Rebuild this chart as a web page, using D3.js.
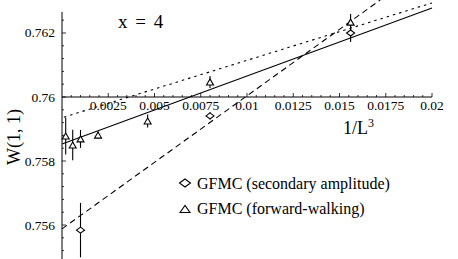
<!DOCTYPE html>
<html><head><meta charset="utf-8">
<script src="https://cdn.jsdelivr.net/npm/d3@7"></script>
<style>
html,body{margin:0;padding:0;background:#fff;}
svg{display:block;font-family:"Liberation Serif","Times New Roman",serif;}
</style></head>
<body><svg id="c" width="458" height="259"></svg>
<script>
// forward-walking (triangles)
const fwX = [0.0002, 0.000579, 0.001, 0.00195, 0.00463, 0.008, 0.0156];
const fwY = [0.75878, 0.7585, 0.75869, 0.75881, 0.75925, 0.76047, 0.76234];
const fwErr = [0.00058, 0.00048, 0.00028, 0.00011, 0.0002, 0.00019, 0.00025];
// secondary amplitude (diamonds)
const saX = [0.001, 0.008, 0.0156];
const saY = [0.75584, 0.75941, 0.762];
const saErr = [0.00085, 0.00011, 0.00028];
// fit lines
const solidX = [0, 0.02], solidY = [0.75853, 0.76278];
const dottedX = [0.0001, 0.02], dottedY = [0.75937, 0.76294];
const dashedX = [0, 0.0172], dashedY = [0.75588, 0.76303];
// ticks
const xMajor = [0.0025, 0.005, 0.0075, 0.01, 0.0125, 0.015, 0.0175, 0.02];
const xLabels = ["0.0025","0.005","0.0075","0.01","0.0125","0.015","0.0175","0.02"];
const yMajor = [0.756, 0.758, 0.76, 0.762];
const yLabels = ["0.756","0.758","0.76","0.762"];
const legendLabels = ["GFMC (secondary amplitude)", "GFMC (forward-walking)"];

const svg = d3.select("#c");
const x = d3.scaleLinear().domain([0, 0.02]).range([62, 432]);
const y = d3.scaleLinear().domain([0.754938, 0.763031]).range([259, 0]);
const yTop = 0.76266;

const g = svg.append("g").attr("stroke","#000").attr("fill","none");
// axes lines
g.append("line").attr("x1", x(0)).attr("x2", x(0)).attr("y1", y(yTop)).attr("y2", 259).attr("stroke-width",1);
g.append("line").attr("x1", x(0)).attr("x2", x(0.02)).attr("y1", y(0.76)).attr("y2", y(0.76)).attr("stroke-width",1);
// x ticks
const xMinor = d3.range(1, 41).map(i => i*0.0005).filter(v => !xMajor.some(m => Math.abs(m-v) < 1e-9));
xMinor.forEach(v => g.append("line").attr("x1",x(v)).attr("x2",x(v)).attr("y1",y(0.76)).attr("y2",y(0.76)-2).attr("stroke-width",0.8));
xMajor.forEach(v => g.append("line").attr("x1",x(v)).attr("x2",x(v)).attr("y1",y(0.76)).attr("y2",y(0.76)-4).attr("stroke-width",0.8));
// y ticks
const yMinor = d3.range(0, 25).map(i => 0.7552 + i*0.0004).filter(v => v < yTop && !yMajor.some(m => Math.abs(m-v) < 1e-9));
yMinor.forEach(v => g.append("line").attr("x1",x(0)).attr("x2",x(0)+2).attr("y1",y(v)).attr("y2",y(v)).attr("stroke-width",0.8));
yMajor.forEach(v => g.append("line").attr("x1",x(0)).attr("x2",x(0)+4).attr("y1",y(v)).attr("y2",y(v)).attr("stroke-width",0.8));

// tick labels
const t = svg.append("g").attr("fill","#000").style("font-size","13.5px");
xMajor.forEach((v,i) => t.append("text").attr("x", x(v)).attr("y", 110).attr("text-anchor","middle").text(xLabels[i]));
yMajor.forEach((v,i) => t.append("text").attr("x", 55).attr("y", y(v)+4.5).attr("text-anchor","end").text(yLabels[i]));

// fit lines
const line = d3.line().x(d => x(d[0])).y(d => y(d[1]));
svg.append("path").datum(d3.zip(solidX, solidY)).attr("d", line).attr("fill","none").attr("stroke","#000").attr("stroke-width",1.1);
svg.append("path").datum(d3.zip(dottedX, dottedY)).attr("d", line).attr("fill","none").attr("stroke","#000").attr("stroke-width",1.1).attr("stroke-dasharray","2.5,4");
svg.append("path").datum(d3.zip(dashedX, dashedY)).attr("d", line).attr("fill","none").attr("stroke","#000").attr("stroke-width",1.1).attr("stroke-dasharray","6,4");

// error bars
const eb = svg.append("g").attr("stroke","#000").attr("stroke-width",1.1);
fwX.forEach((v,i) => eb.append("line").attr("x1",x(v)).attr("x2",x(v)).attr("y1",y(fwY[i]-fwErr[i])).attr("y2",y(fwY[i]+fwErr[i])));
saX.forEach((v,i) => eb.append("line").attr("x1",x(v)).attr("x2",x(v)).attr("y1",y(saY[i]-saErr[i])).attr("y2",y(saY[i]+saErr[i])));

// markers
function tri(cx, cy, w, h){ return `M${cx-w/2},${cy+h/2}L${cx},${cy-h/2}L${cx+w/2},${cy+h/2}Z`; }
function dia(cx, cy, w, h){ return `M${cx-w/2},${cy}L${cx},${cy-h/2}L${cx+w/2},${cy}L${cx},${cy+h/2}Z`; }
const mk = svg.append("g").attr("stroke","#000").attr("stroke-width",1.1).attr("fill","#fff");
fwX.forEach((v,i) => mk.append("path").attr("d", tri(x(v), y(fwY[i]), 7, 6)));
saX.forEach((v,i) => mk.append("path").attr("d", dia(x(v), y(saY[i]), 8, 6)));

// legend
mk.append("path").attr("d", dia(185, 183, 11, 8));
mk.append("path").attr("d", tri(185, 209, 10, 7));
const lg = svg.append("g").attr("fill","#000").style("font-size","16px");
lg.append("text").attr("x",197).attr("y",189).text(legendLabels[0]);
lg.append("text").attr("x",197).attr("y",214).text(legendLabels[1]);

// annotations
svg.append("text").attr("x",118).attr("y",28).style("font-size","19px").style("word-spacing","3px").text("x = 4");
const xl = svg.append("text").attr("x",343).attr("y",134).style("font-size","18px");
xl.append("tspan").text("1/L");
xl.append("tspan").attr("dy",-7).style("font-size","12px").text("3");
svg.append("text").attr("transform","translate(20,137) rotate(-90)").attr("text-anchor","middle").style("font-size","18px").text("W(1, 1)");
</script></body></html>
